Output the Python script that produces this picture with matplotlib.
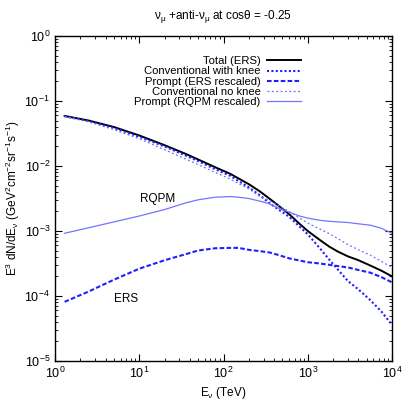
import matplotlib
matplotlib.use("Agg")
import matplotlib.pyplot as plt
from matplotlib.ticker import LogLocator, NullFormatter

plt.rcParams['font.family'] = ['Liberation Sans', 'DejaVu Sans']
plt.rcParams['mathtext.fontset'] = 'custom'
plt.rcParams['mathtext.rm'] = 'Liberation Sans'
plt.rcParams['mathtext.it'] = 'Liberation Sans'

# energies (TeV), values
energy = [1.3, 2.5, 5, 10, 20, 35, 50, 80, 120, 150, 200, 270, 350, 450, 600, 800,
          1000, 1400, 1800, 2300, 3000, 4000, 5500, 7500, 10000]

total_ers = [0.0589, 0.0501, 0.0398, 0.0295, 0.0209, 0.0155, 0.0126, 0.00955, 0.00759,
             6.46e-3, 5.25e-3, 4.07e-3, 3.16e-3, 2.45e-3, 1.82e-3, 1.29e-3,
             1.00e-3, 7.24e-4, 5.75e-4, 4.79e-4, 4.07e-4, 3.55e-4, 2.95e-4, 2.45e-4, 2.00e-4]
conv_knee = [0.0582, 0.0490, 0.0385, 0.0282, 0.0200, 0.0146, 0.0119, 0.00891, 0.00708,
             5.89e-3, 4.68e-3, 3.55e-3, 2.69e-3, 2.14e-3, 1.66e-3, 1.17e-3,
             8.91e-4, 5.37e-4, 3.63e-4, 2.51e-4, 1.70e-4, 1.26e-4, 8.7e-5, 5.75e-5, 3.6e-5]
prompt_ers = [8.13e-5, 1.17e-4, 1.78e-4, 2.63e-4, 3.55e-4, 4.37e-4, 5.01e-4, 5.43e-4, 5.50e-4,
              5.50e-4, 5.13e-4, 4.90e-4, 4.68e-4, 4.27e-4, 3.80e-4, 3.51e-4,
              3.31e-4, 3.16e-4, 3.02e-4, 2.88e-4, 2.75e-4, 2.51e-4, 2.29e-4, 1.95e-4, 1.62e-4]
conv_noknee = [0.0582, 0.0479, 0.0363, 0.0263, 0.0178, 0.0129, 0.0105, 0.00794, 0.00631,
               5.37e-3, 4.47e-3, 3.39e-3, 2.95e-3, 2.45e-3, 2.00e-3, 1.58e-3,
               1.32e-3, 1.07e-3, 9.12e-4, 7.59e-4, 6.17e-4, 5.13e-4, 4.27e-4, 3.39e-4, 2.75e-4]
prompt_rqpm = [9.23e-4, 1.12e-3, 1.38e-3, 1.70e-3, 2.14e-3, 2.69e-3, 3.02e-3, 3.31e-3, 3.39e-3,
               3.31e-3, 3.16e-3, 2.88e-3, 2.63e-3, 2.24e-3, 1.95e-3, 1.70e-3,
               1.58e-3, 1.46e-3, 1.41e-3, 1.38e-3, 1.35e-3, 1.29e-3, 1.23e-3, 1.10e-3, 9.23e-4]

fig = plt.figure(figsize=(4.09, 4.09), dpi=100)
ax = fig.add_axes([55 / 409, 1 - 361 / 409, 337 / 409, 325 / 409])

blue = '#1f1fff'
ax.plot(energy, total_ers, color='black', lw=1.4, label='Total (ERS)')
ax.plot(energy, conv_knee, color=blue, lw=1.5, ls=(0, (1, 1.1)), label='Conventional with knee')
ax.plot(energy, prompt_ers, color=blue, lw=1.5, ls=(0, (2.2, 1.1)), label='Prompt (ERS rescaled)')
ax.plot(energy, conv_noknee, color='#6f6fff', lw=0.9, ls=(0, (1.5, 2)), label='Conventional no knee')
ax.plot(energy, prompt_rqpm, color='#7474ff', lw=0.9, label='Prompt (RQPM rescaled)')

ax.text(16.6, 3.1e-3, 'RQPM', fontsize=8.5, ha='center', va='center')
ax.text(7.0, 8.9e-5, 'ERS', fontsize=8.5, ha='center', va='center')

ax.set_xscale('log')
ax.set_yscale('log')
ax.set_xlim(1, 1e4)
ax.set_ylim(1e-5, 1)
ax.xaxis.set_major_locator(LogLocator(base=10, numticks=10))
ax.yaxis.set_major_locator(LogLocator(base=10, numticks=10))
ax.xaxis.set_minor_locator(LogLocator(base=10, subs=range(2, 10), numticks=20))
ax.yaxis.set_minor_locator(LogLocator(base=10, subs=range(2, 10), numticks=20))
ax.xaxis.set_minor_formatter(NullFormatter())
ax.yaxis.set_minor_formatter(NullFormatter())
ax.tick_params(which='both', direction='in', top=True, right=True, labelsize=9)
ax.tick_params(which='major', length=5, width=0.8)
ax.tick_params(which='minor', length=2.5, width=0.6)
for s in ax.spines.values():
    s.set_linewidth(1.0)

ax.set_xlabel('E$_{\\mathrm{ν}}$ (TeV)', fontsize=8.5, labelpad=3)
ax.set_ylabel('E$^3$ dN/dE$_{\\mathrm{ν}}$ (GeV$^2$cm$^{-2}$sr$^{-1}$s$^{-1}$)', fontsize=8.5, labelpad=2)
ax.set_title('ν$_{\\mathrm{μ}}$ +anti-ν$_{\\mathrm{μ}}$ at cosθ = -0.25', fontsize=8.5, pad=12)

ax.legend(loc='upper right', bbox_to_anchor=(0.747, 0.955), frameon=False, markerfirst=False,
          fontsize=8.1, handlelength=3.0, handletextpad=0.6, labelspacing=0.02, borderpad=0)

fig.savefig('out.png', dpi=100)
